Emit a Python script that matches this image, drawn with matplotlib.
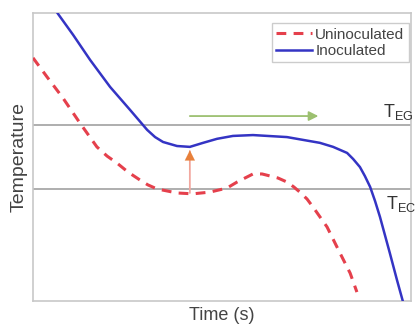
import matplotlib
matplotlib.use('Agg')
import matplotlib.pyplot as plt

# cooling curves, time and temperature in arbitrary units (0-100)
inoc_time = [5.0, 6.6, 10.6, 15.1, 20.4, 25.7, 30.2, 32.3, 34.4, 38.1, 41.5, 45.0, 48.7,
             52.9, 58.2, 67.2, 75.9, 79.4, 83.1, 84.7, 86.5, 87.8, 89.2, 90.5, 91.8,
             94.4, 96.3, 97.9]
inoc_temp = [103.1, 99.7, 92.4, 83.7, 74.3, 66.3, 59.4, 56.9, 55.2, 53.8, 53.5, 54.9, 56.3,
             57.3, 57.6, 56.9, 54.9, 53.5, 51.4, 49.3, 46.5, 43.4, 39.6, 34.7, 29.2,
             16.7, 7.3, -0.3]

uninoc_time = [0.0, 3.7, 7.9, 12.4, 16.9, 19.6, 22.2, 25.1, 28.3, 30.4, 32.8, 38.1, 42.3,
               46.8, 51.3, 54.0, 56.1, 58.2, 60.6, 62.7, 64.8, 67.2, 69.0, 70.6, 72.5,
               74.1, 77.8, 81.2, 83.9, 85.7]
uninoc_temp = [84.4, 77.8, 70.5, 61.8, 53.5, 50.3, 47.9, 44.8, 42.0, 40.3, 38.9, 37.5, 37.2,
               37.8, 39.2, 41.3, 42.7, 44.1, 44.1, 43.4, 42.7, 41.3, 39.6, 37.8, 35.4,
               32.6, 25.7, 16.7, 9.7, 3.1]

t_eg = 61.1
t_ec = 38.9

plt.rcParams['font.family'] = ['Liberation Sans', 'DejaVu Sans']

fig = plt.figure(figsize=(4.19, 3.27), dpi=100)
ax = fig.add_axes([0.0788, 0.0795, 0.902, 0.881])

ax.axhline(t_eg, color='#a8a8a8', lw=1.3, zorder=1)
ax.axhline(t_ec, color='#a8a8a8', lw=1.3, zorder=1)

ax.plot(uninoc_time, uninoc_temp, color='#e5404c', lw=2.2, dashes=(3.2, 2.4),
        solid_joinstyle='round', dash_joinstyle='round',
        label='Uninoculated', zorder=3)
ax.plot(inoc_time, inoc_temp, color='#3434c4', lw=1.8, solid_joinstyle='round',
        label='Inoculated', zorder=3)

# growth arrow along the eutectic plateau
ax.annotate('', xy=(75.5, 64.2), xytext=(41.5, 64.2),
            arrowprops=dict(arrowstyle='-|>', color='#9cc070', lw=1.3,
                            mutation_scale=14, shrinkA=0, shrinkB=0))
# undercooling shift between the two curves
ax.annotate('', xy=(41.5, 52.0), xytext=(41.5, 37.5),
            arrowprops=dict(arrowstyle='-', color='#f2a8a0', lw=1.3,
                            shrinkA=0, shrinkB=0))
ax.annotate('', xy=(41.5, 52.3), xytext=(41.5, 45.5),
            arrowprops=dict(arrowstyle='-|>', color='#e8803a', lw=0.1,
                            mutation_scale=18, shrinkA=0, shrinkB=0))

ax.text(92.6, 62.3, r'$\mathregular{T_{EG}}$', fontsize=13, color='#333333',
        ha='left', va='bottom', clip_on=False)
ax.text(93.4, 30.3, r'$\mathregular{T_{EC}}$', fontsize=13, color='#333333',
        ha='left', va='bottom', clip_on=False)

ax.set_xlim(0, 100)
ax.set_ylim(0, 100)
ax.set_xticks([])
ax.set_yticks([])
for s in ax.spines.values():
    s.set_color('#c8c8c8')
    s.set_linewidth(1.2)

ax.set_xlabel('Time (s)', fontsize=13, color='#444444', labelpad=4)
ax.set_ylabel('Temperature', fontsize=14, color='#444444', labelpad=4)

leg = ax.legend(loc='upper right', bbox_to_anchor=(0.995, 0.965), borderaxespad=0,
                fontsize=11, fancybox=False, handlelength=2.3, handletextpad=0.25,
                labelspacing=0.15, borderpad=0.3)
leg.get_frame().set_edgecolor('#c0c0c0')
leg.get_frame().set_linewidth(1.0)
for t in leg.get_texts():
    t.set_color('#444444')

fig.savefig('out.png', dpi=100)
